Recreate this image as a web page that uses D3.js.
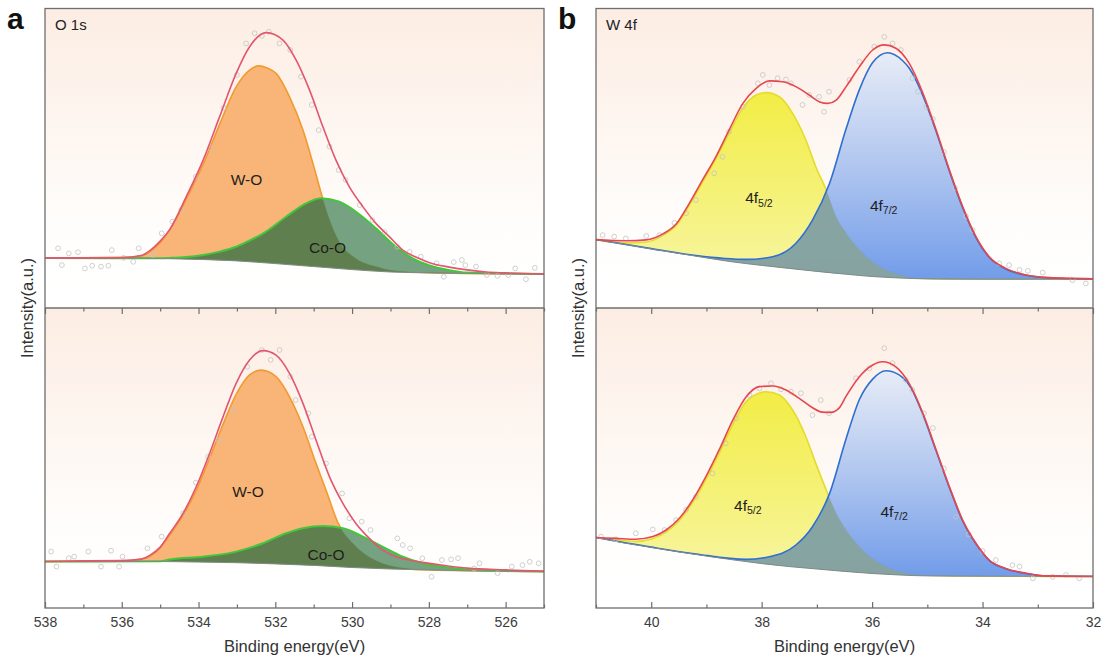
<!DOCTYPE html>
<html>
<head>
<meta charset="utf-8">
<script src="https://cdn.jsdelivr.net/npm/d3@7"></script>
<style>
body{margin:0;background:#fff;}
svg{display:block;font-family:Arial,"Liberation Sans",Helvetica,sans-serif;}
</style>
</head>
<body>
<div id="chart"></div>
<script>
/* global d3 */
// ---- O 1s (panel a), binding energy in eV, intensity in a.u. (0-100 per sub-plot) ----
var aTopBg = [[538,16.7],[537,16.7],[536,16.7],[535,16.5],[534,16.2],[533,15.7],[532,14.8],[531,13.8],[530,12.8],[529,12.0],[528,11.7],[527,11.5],[525,11.3]];
var aTopFit = [[538,16.7],[537,16.7],[536,16.8],[535.5,17.5],[535.25,19.3],[535,22.3],[534.75,26.2],[534.32,37.1],[533.88,49.3],[533.45,63.8],[533.02,78.2],[532.67,87.1],[532.24,91.8],[531.8,89.3],[531.46,82.7],[531.11,72.7],[530.76,60.4],[530.42,49.3],[530.07,40.4],[529.72,33.8],[529.38,28.2],[529.03,23.8],[528.68,19.3],[528.34,17.0],[528,15.2],[527.5,13.7],[527,12.7],[526.5,12.0],[526,11.7],[525,11.3]];
var aTopWO = [[538,16.7],[536,16.8],[535.5,17.2],[535.25,19.0],[535,21.8],[534.75,26.0],[534.32,36.3],[533.88,47.9],[533.45,61.3],[533.02,73.7],[532.67,79.3],[532.43,80.7],[532.2,79.9],[531.98,78.2],[531.63,70.4],[531.28,59.3],[531.02,48.2],[530.81,38.5],[530.59,29.5],[530.33,22.0],[529.9,16.5],[529.38,13.8],[529,12.6],[528,11.8],[525,11.3]];
var aTopCoO = [[538,16.7],[535,16.6],[534.75,16.7],[534.32,17.0],[533.88,17.7],[533.45,18.8],[533.02,20.4],[532.67,22.5],[532.31,24.9],[531.72,30.4],[531.28,34.3],[530.81,36.6],[530.33,35.4],[529.9,32.1],[529.38,26.6],[528.86,20.4],[528.34,16.0],[528,14.3],[527.5,12.7],[527,11.8],[526,11.5],[525,11.3]];
var aTopPts = [[537.66,19.9],[537.56,14.3],[537.38,18.2],[537.14,18.6],[536.96,13.2],[536.77,14.1],[536.54,13.8],[536.35,14.1],[536.26,19.3],[535.95,16.7],[535.7,15.4],[535.56,19.9],[535.2,17.7],[534.96,24.9],[534.68,28.8],[534.45,32.7],[534.07,43.8],[533.7,53.3],[533.35,66.7],[533.0,77.7],[532.76,88.2],[532.54,91.6],[532.35,90.7],[532.17,92.1],[531.89,88.2],[531.61,86.0],[531.33,77.1],[531.05,67.7],[530.87,59.3],[530.59,53.8],[530.35,46.0],[530.17,42.7],[529.8,34.3],[529.47,29.3],[529.15,25.3],[528.82,20.4],[528.5,18.7],[528.21,17.1],[527.8,14.9],[527.61,10.4],[527.35,15.3],[527.14,16.0],[527.05,14.3],[526.77,13.8],[526.49,11.0],[526.21,10.7],[525.93,11.0],[525.75,13.2],[525.47,9.6],[525.24,13.4]];

var aBotBg = [[538,15.5],[535,15.5],[534,15.3],[533,15.1],[532,14.7],[531,14.2],[530,13.5],[529,13.0],[528,12.7],[527,12.4],[525,12.2]];
var aBotFit = [[538,15.5],[537,15.7],[536,15.8],[535.5,16.3],[535.25,17.7],[535,20.3],[534.75,24.9],[534.4,31.6],[534.06,40.4],[533.71,51.6],[533.36,63.8],[533.02,74.9],[532.67,82.7],[532.32,85.8],[531.98,84.3],[531.63,78.2],[531.28,68.2],[530.94,56.0],[530.59,43.8],[530.24,34.9],[529.9,28.2],[529.55,23.2],[529.2,19.3],[528.86,17.1],[528.51,16.0],[528.16,15.2],[527.5,14.0],[527,13.3],[526,12.7],[525,12.2]];
var aBotWO = [[538,15.5],[536,15.6],[535.5,16.2],[535.25,17.3],[535,20.0],[534.75,24.3],[534.4,31.0],[534.06,39.2],[533.71,50.0],[533.36,61.3],[533.02,71.2],[532.67,77.7],[532.37,79.3],[531.98,77.1],[531.63,70.4],[531.28,60.4],[530.94,48.2],[530.68,39.3],[530.37,28.5],[529.9,20.5],[529.38,15.8],[528.68,13.3],[528,12.7],[525,12.2]];
var aBotCoO = [[538,15.5],[535,15.6],[534.75,16.2],[533.88,17.1],[533.02,18.8],[532.32,21.6],[531.72,24.9],[531.28,26.6],[530.76,27.3],[530.24,26.6],[529.72,23.8],[529.2,20.4],[528.68,17.1],[528.16,14.9],[527.5,13.5],[527,12.8],[526,12.3],[525,12.2]];
var aBotPts = [[537.84,18.8],[537.7,13.8],[537.38,16.6],[537.24,17.1],[536.87,18.8],[536.54,13.8],[536.28,19.1],[536.07,13.8],[535.98,17.1],[535.33,19.9],[534.96,23.8],[534.4,31.6],[534.07,41.8],[533.75,50.4],[533.47,56.0],[533.1,66.0],[532.73,80.4],[532.35,86.0],[532.12,82.7],[531.89,86.0],[531.61,77.1],[531.47,69.3],[531.14,64.9],[531.05,57.1],[530.68,48.2],[530.26,38.2],[530.07,29.9],[529.75,28.8],[529.52,26.0],[528.82,23.2],[528.68,21.0],[528.49,19.9],[528.17,16.6],[527.93,10.4],[527.66,16.0],[527.42,16.2],[527.24,16.6],[526.82,13.2],[526.68,14.9],[526.21,11.6],[525.84,13.8],[525.56,14.3],[525.37,15.4],[525.14,14.9]];

// ---- W 4f (panel b) ----
var bTopBg = [[41,22.8],[40.5,21.3],[40,19.7],[39.5,18.2],[39,16.7],[38.5,15.3],[38,14.2],[37.5,13.2],[37,12.2],[36.5,11.3],[36,10.5],[35.5,10.0],[35,9.7],[34,9.6],[32,9.6]];
var bTopFit = [[41,22.8],[40.46,22.4],[40.09,22.7],[39.79,24.7],[39.54,28.2],[39.31,34.9],[39.07,42.7],[38.83,50.4],[38.59,59.3],[38.34,68.2],[38.1,73.2],[37.86,75.7],[37.62,75.4],[37.38,73.8],[37.14,71.0],[36.95,68.7],[36.8,68.2],[36.65,69.3],[36.47,73.8],[36.23,80.4],[35.99,86.0],[35.78,87.7],[35.57,86.6],[35.33,81.6],[35.08,71.6],[34.84,59.3],[34.6,46.0],[34.36,33.8],[34.12,23.8],[33.88,17.1],[33.58,13.2],[33.21,11.0],[32.85,10.2],[32.37,9.9],[32,9.7]];
var bTop52 = [[41,22.8],[40.5,21.7],[40.09,22.0],[39.79,24.2],[39.54,27.7],[39.31,34.3],[39.07,42.0],[38.83,49.7],[38.59,58.2],[38.34,66.7],[38.1,71.0],[37.92,71.8],[37.68,70.4],[37.44,64.9],[37.2,56.0],[37.02,47.1],[36.83,39.3],[36.65,30.4],[36.47,24.9],[36.23,19.3],[35.87,13.8],[35.51,11.0],[35.15,9.9],[34.5,9.6],[32,9.6]];
var bTop72 = [[41,22.8],[40,19.8],[39.19,17.5],[38.28,16.2],[37.8,17.1],[37.38,21.6],[37.08,29.3],[36.77,41.6],[36.47,59.8],[36.23,72.8],[35.99,81.8],[35.72,85.1],[35.45,82.5],[35.33,80.0],[35.08,70.8],[34.84,58.8],[34.6,45.6],[34.36,33.4],[34.12,23.5],[33.88,16.9],[33.58,13.0],[33.21,10.9],[32.85,10.1],[32,9.6]];
var bTopPts = [[40.88,24.3],[40.67,23.8],[40.46,23.2],[40.09,24.0],[39.85,24.3],[39.58,28.4],[39.37,31.6],[39.19,36.0],[38.86,44.9],[38.71,50.4],[38.59,58.8],[38.34,67.1],[38.07,74.9],[37.98,77.7],[37.86,74.3],[37.71,76.6],[37.56,76.2],[37.47,74.9],[37.26,67.7],[37.14,71.0],[36.96,70.4],[36.87,65.4],[36.78,72.1],[36.41,76.0],[36.23,82.1],[35.96,87.1],[35.78,90.4],[35.63,88.2],[35.48,86.0],[35.27,76.6],[35.17,72.1],[35.02,67.1],[34.9,63.0],[34.7,52.0],[34.5,40.0],[34.3,30.5],[34.18,26.0],[33.7,14.9],[33.52,14.3],[33.33,12.7],[33.18,12.4],[32.91,11.8],[32.37,9.3],[32.13,8.2]];

var bBotBg = [[41,23.5],[40.5,21.7],[40,20.2],[39.5,18.7],[39,17.3],[38.5,16.0],[38,14.8],[37.5,13.8],[37,13.0],[36.5,12.2],[36,11.5],[35.5,11.0],[35,10.7],[34,10.6],[32,10.5]];
var bBotFit = [[41,23.5],[40.64,23.2],[40.28,22.9],[39.97,23.8],[39.73,26.0],[39.49,29.9],[39.25,36.0],[39.01,43.8],[38.77,52.7],[38.52,62.7],[38.28,70.4],[38.04,73.8],[37.8,74.0],[37.56,72.7],[37.32,69.9],[37.1,67.0],[36.9,65.3],[36.75,65.2],[36.59,66.8],[36.47,70.6],[36.23,77.1],[35.99,81.0],[35.81,82.1],[35.57,80.4],[35.33,74.9],[35.08,64.9],[34.84,52.7],[34.6,40.4],[34.36,29.3],[34.12,21.6],[33.88,16.0],[33.58,13.2],[33.21,11.6],[32.85,10.7],[32.37,10.6],[32,10.6]];
var bBot52 = [[41,23.5],[40.64,22.7],[40.28,22.2],[39.97,23.2],[39.73,25.3],[39.49,29.2],[39.25,35.2],[39.01,42.8],[38.77,51.5],[38.52,61.3],[38.28,68.8],[38.04,71.7],[37.92,72.1],[37.68,71.0],[37.44,66.0],[37.2,57.1],[37.02,48.2],[36.83,39.3],[36.65,31.6],[36.47,26.0],[36.23,20.4],[35.87,14.9],[35.51,12.1],[35.15,11.0],[34.5,10.7],[32,10.5]];
var bBot72 = [[41,23.5],[40,20.3],[39.19,18.0],[38.28,16.2],[37.86,17.1],[37.38,21.0],[37.08,27.1],[36.77,38.2],[36.47,56.5],[36.23,69.5],[35.99,76.3],[35.75,79.1],[35.51,77.7],[35.27,72.5],[35.08,64.5],[34.84,52.3],[34.6,40.1],[34.36,29.0],[34.12,21.4],[33.88,15.9],[33.58,13.1],[33.21,11.5],[32.85,10.7],[32,10.5]];
var bBotPts = [[40.91,23.8],[40.64,22.9],[40.28,24.9],[39.97,26.2],[39.76,26.0],[39.55,29.3],[39.37,32.7],[39.19,37.1],[38.89,44.9],[38.65,54.9],[38.46,63.2],[38.22,71.0],[38.04,73.2],[37.83,74.9],[37.65,72.9],[37.47,72.1],[37.29,71.6],[37.08,64.3],[36.93,69.3],[36.78,64.9],[36.29,76.6],[36.05,79.9],[35.78,86.6],[35.63,81.6],[35.39,76.0],[35.27,72.7],[35.06,64.9],[34.9,60.0],[34.7,46.5],[34.48,30.4],[34.25,24.5],[34.0,19.0],[33.76,16.0],[33.46,14.3],[33.33,13.8],[33.09,9.9],[32.73,10.4],[32.49,11.0],[32.25,9.9]];

// axis ticks
var aMajor = [538,536,534,532,530,528,526];
var aMinor = [537,535,533,531,529,527,525];
var bMajor = [40,38,36,34,32];
var bMinor = [41,39,37,35,33];

// peak labels: [panel, row, energy, intensity, text, subscript]
var peakLabels = [
	[0,0,532.75,42.7,"W-O",""],
	[0,0,530.64,20.3,"Co-O",""],
	[0,1,532.71,38.7,"W-O",""],
	[0,1,530.68,17.7,"Co-O",""],
	[1,0,38.05,36.7,"4f","5/2"],
	[1,0,35.79,34.3,"4f","7/2"],
	[1,1,38.25,34.3,"4f","5/2"],
	[1,1,35.6,32.3,"4f","7/2"]
];

var panels = [
	{left:45, right:544, domain:[538,525], major:aMajor, minor:aMinor, letter:"a", core:"O 1s",
	 fillA:"#f9b577", strokeA:"#f29a30", fillB:"#6f9e7b", strokeB:"#44c63c", overlap:"#5f7e4c", fit:"#e2566e",
	 rows:[{bg:aTopBg, fit:aTopFit, a:aTopWO, b:aTopCoO, pts:aTopPts},
	       {bg:aBotBg, fit:aBotFit, a:aBotWO, b:aBotCoO, pts:aBotPts}]},
	{left:596, right:1093, domain:[41,32], major:bMajor, minor:bMinor, letter:"b", core:"W 4f",
	 fillA:"url(#yel)", strokeA:"#e4dc2c", fillB:"url(#blue)", strokeB:"#2f6fcf", overlap:"#86a39f", fit:"#e8464e",
	 rows:[{bg:bTopBg, fit:bTopFit, a:bTop52, b:bTop72, pts:bTopPts},
	       {bg:bBotBg, fit:bBotFit, a:bBot52, b:bBot72, pts:bBotPts}]}
];

var rowRange = [[308,8],[608,308]];
var frame = "#6e6e6e";

var svg = d3.select("#chart").append("svg")
	.attr("width", 1102)
	.attr("height", 659);
var defs = svg.append("defs");

function grad(id, stops) {
	var g = defs.append("linearGradient").attr("id", id)
		.attr("x1", 0).attr("y1", 0).attr("x2", 0).attr("y2", 1);
	stops.forEach(function(s) {
		g.append("stop").attr("offset", s[0]).attr("stop-color", s[1]);
	});
}
grad("paper", [[0,"#fcede3"],[0.78,"#fffefd"],[1,"#ffffff"]]);
grad("blue", [[0,"#e6ecf7"],[0.5,"#adc4ef"],[1,"#6c98e8"]]);
grad("yel", [[0,"#f2ed45"],[1,"#f7f5a2"]]);

panels.forEach(function(p, pi) {
	var x = d3.scaleLinear().domain(p.domain).range([p.left, p.right]);

	p.rows.forEach(function(r, ri) {
		var y = d3.scaleLinear().domain([0, 100]).range(rowRange[ri]);
		var top = rowRange[ri][1], bot = rowRange[ri][0];
		var cid = "clip" + pi + ri;
		defs.append("clipPath").attr("id", cid)
			.append("rect")
			.attr("x", p.left).attr("y", top)
			.attr("width", p.right - p.left).attr("height", bot - top);

		var line = d3.line()
			.x(function(d) { return x(d[0]); })
			.y(function(d) { return y(d[1]); })
			.curve(d3.curveMonotoneX);
		var area = function(c) {
			return line(c) + line(r.bg.slice().reverse()).replace("M", "L") + "Z";
		};

		var g = svg.append("g").attr("clip-path", "url(#" + cid + ")");
		g.append("rect")
			.attr("x", p.left).attr("y", top)
			.attr("width", p.right - p.left).attr("height", bot - top)
			.attr("fill", "url(#paper)");

		// first component
		g.append("path").attr("d", area(r.a)).attr("fill", p.fillA);
		g.append("path").attr("d", line(r.a)).attr("fill", "none")
			.attr("stroke", p.strokeA).attr("stroke-width", 1.6);

		// second component + overlap
		var oid = "ov" + pi + ri;
		defs.append("clipPath").attr("id", oid).append("path").attr("d", area(r.a));
		g.append("path").attr("d", area(r.b)).attr("fill", p.fillB).attr("opacity", 0.96);
		g.append("path").attr("d", area(r.b)).attr("fill", p.overlap)
			.attr("opacity", 0.96)
			.attr("clip-path", "url(#" + oid + ")");
		g.append("path").attr("d", line(r.b)).attr("fill", "none")
			.attr("stroke", p.strokeB).attr("stroke-width", pi === 0 ? 2 : 1.6);

		// background
		g.append("path").attr("d", line(r.bg)).attr("fill", "none")
			.attr("stroke", "#7f8c86").attr("stroke-width", 1);

		// raw data
		g.selectAll("circle.pt").data(r.pts).enter().append("circle")
			.attr("class", "pt")
			.attr("cx", function(d) { return x(d[0]); })
			.attr("cy", function(d) { return y(d[1]); })
			.attr("r", 2.4)
			.attr("fill", "none")
			.attr("stroke", "#c4c4c4")
			.attr("stroke-width", 0.8);

		// envelope
		g.append("path").attr("d", line(r.fit)).attr("fill", "none")
			.attr("stroke", p.fit).attr("stroke-width", 1.6);

		// labels
		peakLabels.filter(function(l) { return l[0] === pi && l[1] === ri; }).forEach(function(l) {
			var t = svg.append("text")
				.attr("x", x(l[2])).attr("y", y(l[3]))
				.attr("dy", "0.35em")
				.attr("text-anchor", "middle")
				.attr("font-size", 15.5)
				.attr("fill", "#1e1e1e")
				.text(l[4]);
			if (l[5]) {
				t.append("tspan").attr("font-size", 10.5).attr("dy", 3.5).text(l[5]);
			}
		});
	});

	// frame
	svg.append("rect")
		.attr("x", p.left).attr("y", 8.5)
		.attr("width", p.right - p.left).attr("height", 608 - 8.5)
		.attr("fill", "none").attr("stroke", frame).attr("stroke-width", 1.3);
	svg.append("line")
		.attr("x1", p.left).attr("x2", p.right).attr("y1", 308).attr("y2", 308)
		.attr("stroke", frame).attr("stroke-width", 1.3);

	// axes
	var ax = svg.append("g").attr("transform", "translate(0,608)")
		.call(d3.axisBottom(x).tickValues(p.major).tickSize(-6).tickPadding(9).tickFormat(d3.format("d")));
	svg.append("g").attr("transform", "translate(0,608)")
		.call(d3.axisBottom(x).tickValues(p.minor).tickSize(-3.5).tickFormat(""));
	svg.append("g").attr("transform", "translate(0,308)")
		.call(d3.axisBottom(x).tickValues(p.major).tickSize(6).tickFormat(""));
	svg.append("g").attr("transform", "translate(0,308)")
		.call(d3.axisBottom(x).tickValues(p.minor).tickSize(3.5).tickFormat(""));
	svg.selectAll(".domain").remove();
	svg.selectAll(".tick line").attr("stroke", frame).attr("stroke-width", 1.2);
	ax.attr("font-size", 14).attr("font-family", null);
	ax.selectAll("text").attr("fill", "#3c3c3c");

	var mid = (p.left + p.right) / 2;
	svg.append("text")
		.attr("x", mid).attr("y", 652)
		.attr("text-anchor", "middle")
		.attr("font-size", 16.5)
		.attr("fill", "#333")
		.text("Binding energy(eV)");
	svg.append("text")
		.attr("transform", "translate(" + (p.left - 18) + ",308) rotate(-90)")
		.attr("dy", "0.35em")
		.attr("text-anchor", "middle")
		.attr("font-size", 16.5)
		.attr("fill", "#333")
		.text("Intensity(a.u.)");

	svg.append("text")
		.attr("x", p.left - 38).attr("y", 29)
		.attr("font-size", 30).attr("font-weight", "bold")
		.attr("fill", "#111")
		.text(p.letter);
	svg.append("text")
		.attr("x", p.left + 10).attr("y", 30)
		.attr("font-size", 15)
		.attr("fill", "#222")
		.text(p.core);
});
</script>
</body>
</html>
